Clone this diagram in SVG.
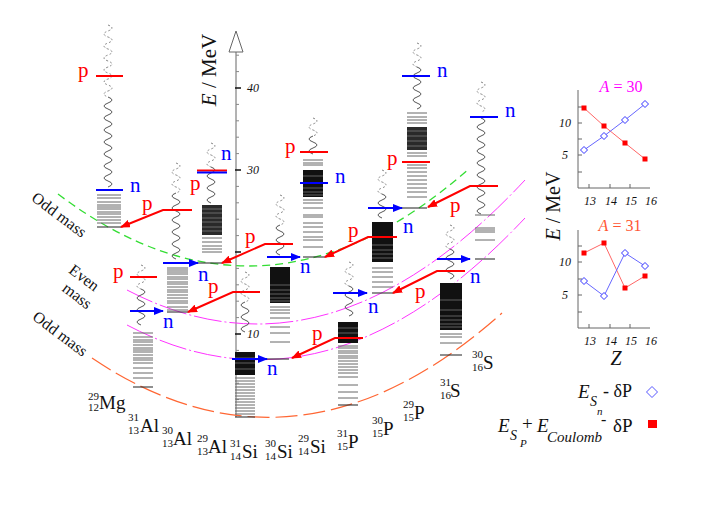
<svg xmlns="http://www.w3.org/2000/svg" width="716" height="507" viewBox="0 0 716 507">
<style>
text{font-family:"Liberation Serif","Times New Roman",serif;fill:#111}
.pl{fill:#f00;font-size:21px}
.nl{fill:#00f;font-size:21px}
.lv{stroke:#666;stroke-width:1;fill:none}
.gs{stroke:#333;stroke-width:1.1;fill:none}
.dn{fill:#111}
.st{stroke:#999;stroke-width:0.6;fill:none}
.wd{stroke:#777;stroke-width:0.9;fill:none;stroke-dasharray:2 2}
.ws{stroke:#444;stroke-width:0.9;fill:none}
.rl{stroke:#f00;stroke-width:2;fill:none}
.bl{stroke:#00f;stroke-width:2;fill:none}
.ra{stroke:#f00;stroke-width:2;fill:none;marker-end:url(#mr)}
.ba{stroke:#00f;stroke-width:2;fill:none;marker-end:url(#mb)}
.ax{stroke:#666;stroke-width:1;fill:none}
.tk{font-size:12px;font-style:italic}
.nsym{font-size:19px}
.nsc{font-size:11px}
.ml{font-size:16px}
.sq{fill:#f00}
.dm{fill:#fff;stroke:#33f;stroke-width:1}
</style>
<defs>
<marker id="mr" viewBox="0 0 10 8" refX="9" refY="4" markerWidth="10" markerHeight="8" orient="auto" markerUnits="userSpaceOnUse"><path d="M0,0L10,4L0,8z" fill="#f00"/></marker>
<marker id="mb" viewBox="0 0 10 8" refX="9" refY="4" markerWidth="10" markerHeight="8" orient="auto" markerUnits="userSpaceOnUse"><path d="M0,0L10,4L0,8z" fill="#00f"/></marker>
</defs>
<rect width="716" height="507" fill="#fff"/>

<g id="axis">
<path class="ax" d="M236,417V52"/>
<path d="M229,52L236,31L243,52Z" fill="#fff" stroke="#666" stroke-width="1"/>
<path stroke="#888" stroke-width="1" d="M236,399.6h3M236,383.2h3M236,366.8h3M236,350.4h3M236,317.6h3M236,301.2h3M236,284.8h3M236,268.4h3M236,235.6h3M236,219.2h3M236,202.8h3M236,186.4h3M236,153.6h3M236,137.2h3M236,120.8h3M236,104.4h3M236,71.6h3M236,55.2h3"/>
<path stroke="#111" stroke-width="1.6" d="M235,334h6M235,252h6M235,170h6M235,88h6"/>
<text class="tk" x="247" y="92">40</text>
<text class="tk" x="247" y="174">30</text>
<text class="tk" x="247" y="338">10</text>
<text transform="translate(216,70) rotate(-90)" text-anchor="middle" font-size="21"><tspan font-style="italic">E</tspan> / MeV</text>
</g>

<g id="curves" fill="none">
<path d="M58,194Q264,350 470,168" stroke="#33dd33" stroke-width="1.3" stroke-dasharray="8 5"/>
<path d="M127,290Q326,394 525,180" stroke="#ff33ff" stroke-width="1" stroke-dasharray="28 3 2 3"/>
<path d="M127,325Q326,430 525,218" stroke="#ff33ff" stroke-width="1" stroke-dasharray="28 3 2 3"/>
<path d="M92,358Q297,496 502,313" stroke="#ff6633" stroke-width="1.2" stroke-dasharray="22 6"/>
<text class="ml" transform="translate(56,219) rotate(37)" text-anchor="middle">Odd mass</text>
<text class="ml" transform="translate(81,282) rotate(37)" text-anchor="middle">Even</text>
<text class="ml" transform="translate(74,300) rotate(37)" text-anchor="middle">mass</text>
<text class="ml" transform="translate(57,338) rotate(37)" text-anchor="middle">Odd mass</text>
</g>

<g id="n29Mg">
<path class="wd" d="M108,25q8,3 0,6t0,6 0,6 0,6 0,6 0,6 0,6 0,6 0,6 0,6 0,6 0,6"/>
<path class="ws" d="M108,97q8,3 0,6t0,6 0,6 0,6 0,6 0,6 0,6 0,6 0,6 0,6 0,6 0,6 0,6 0,6 0,6"/>
<path class="lv" d="M97,195H121M97,198H121M97,202H121M97,205H121M97,207H121M97,209H121M97,212H121M97,214H121M97,217H121M97,220H121M97,223H121"/>
<path class="gs" d="M97,227H121"/>
<path class="rl" d="M96,76H123"/>
<path class="bl" d="M96,190H123"/>
<text class="pl" x="78" y="77">p</text>
<text class="nl" x="130" y="192">n</text>
<text class="nsc" x="88" y="400">29</text><text class="nsc" x="88" y="411">12</text><text class="nsym" x="99" y="409">Mg</text>
</g>

<g id="n31Al">
<path class="wd" d="M141,265q8,3 0,6t0,6 0,6 0,6"/>
<path class="ws" d="M141,289q8,3 0,6t0,6 0,6 0,6 0,6 0,6"/>
<path class="lv" d="M133,333H153M133,337H153M133,340H153M133,342H153M133,345H153M133,348H153M133,350H153M133,352H153M133,355H153M133,358H153M133,360H153M133,363H153M133,368H153M133,373H153M133,378H153"/>
<path class="gs" d="M133,387H153"/>
<path class="rl" d="M130,277H157"/>
<text class="pl" x="113" y="278">p</text>
<text class="nsc" x="128" y="421">31</text><text class="nsc" x="128" y="434">13</text><text class="nsym" x="140" y="432">Al</text>
</g>

<g id="n30Al">
<path class="wd" d="M176,163q8,3 0,6t0,6 0,6 0,6 0,6"/>
<path class="ws" d="M176,193q-8,3 0,6t0,6 0,6 0,6 0,6 0,6 0,6 0,6 0,6 0,6 0,6"/>
<path class="lv" stroke="#999" d="M167,268H188M167,270H188M167,272H188M167,274H188M167,277H188M167,279H188M167,282H188M167,284H188"/>
<path class="lv" stroke="#444" d="M167,287H188M167,290H188M167,292H188M167,295H188M167,298H188M167,301H188M167,303H188M167,307H188M167,310H188"/>
<path class="gs" d="M167,312H188"/>
<text class="nsc" x="162" y="434">30</text><text class="nsc" x="162" y="447">13</text><text class="nsym" x="173" y="445">Al</text>
</g>

<g id="n29Al">
<path class="wd" d="M211,143q8,3 0,6t0,6 0,6 0,6"/>
<path class="ws" d="M211,167q8,3 0,6t0,6 0,6 0,6 0,6 0,6"/>
<rect x="202" y="205" width="20" height="30" fill="#2a2a2a"/>
<path class="st" d="M202,209H222M202,213H222M202,218H222M202,222H222M202,227H222M202,231H222"/>
<path class="lv" d="M202,238H222M202,242H222M202,246H222M202,249H222M202,252H222"/>
<path class="gs" d="M198,263H222"/>
<path class="rl" d="M197,170.5H227"/>
<path class="bl" d="M197,172.5H227"/>
<text class="pl" x="190" y="190">p</text>
<text class="nl" x="221" y="160">n</text>
<text class="nsc" x="197" y="442">29</text><text class="nsc" x="197" y="455">13</text><text class="nsym" x="208" y="453">Al</text>
</g>

<g id="n31Si">
<path class="wd" d="M245,272q8,3 0,6t0,6 0,6 0,6 0,6"/>
<path class="ws" d="M245,302q-8,3 0,6t0,6 0,6 0,6 0,6"/>
<rect class="dn" x="235" y="352" width="20" height="23"/>
<path class="st" d="M235,358H255M235,363H255M235,369H255"/>
<path class="lv" d="M235,378H255M235,381H255M235,384H255M235,387H255M235,390H255M235,393H255M235,396H255M235,399H255M235,402H255M235,405H255M235,408H255M235,411H255M235,414H255"/>
<path class="gs" d="M235,417H255"/>
<path class="rl" d="M233,292H260"/>
<text class="nsc" x="230" y="447">31</text><text class="nsc" x="230" y="460">14</text><text class="nsym" x="242" y="458">Si</text>
</g>

<g id="n30Si">
<path class="wd" d="M280,195q8,3 0,6t0,6 0,6 0,6 0,6"/>
<path class="ws" d="M280,225q-8,3 0,6t0,6 0,6 0,6 0,6"/>
<rect class="dn" x="270" y="267" width="20" height="36"/>
<path class="st" d="M270,285H290M270,290H290M270,294H290M270,298H290M270,301H290"/>
<path class="lv" d="M270,307H290M270,310H290M270,313H290M270,318H290M270,327H290M270,333H290M270,342H290"/>
<path class="gs" d="M267,359H289"/>
<text class="nsc" x="265" y="447">30</text><text class="nsc" x="265" y="460">14</text><text class="nsym" x="277" y="458">Si</text>
</g>

<g id="n29Si">
<path class="wd" d="M313,118q8,3 0,6t0,6 0,6"/>
<path class="ws" d="M313,136q-8,3 0,6t0,6 0,6"/>
<path class="lv" d="M303,160H323M303,163H323M303,165H323"/>
<rect class="dn" x="303" y="170" width="20" height="27"/>
<path class="st" d="M303,176H323M303,188H323M303,192H323M303,195H323"/>
<path class="lv" d="M303,200H323M303,203H323M303,208H323M303,215H323M303,217H323M303,223H323M303,227H323M303,232H323M303,237H323M303,240H323M303,247H323"/>
<path class="gs" d="M303,257H325"/>
<path class="rl" d="M300,152H328"/>
<path class="bl" d="M300,183H328"/>
<text class="pl" x="285" y="153">p</text>
<text class="nl" x="335" y="183">n</text>
<text class="nsc" x="298" y="442">29</text><text class="nsc" x="298" y="455">14</text><text class="nsym" x="310" y="453">Si</text>
</g>

<g id="n31P">
<path class="wd" d="M349,262q8,3 0,6t0,6 0,6 0,6"/>
<path class="ws" d="M349,286q8,3 0,6t0,6 0,6 0,6 0,6"/>
<rect class="dn" x="338" y="322" width="20" height="21"/>
<path class="st" d="M338,328H358M338,333H358"/>
<path class="lv" stroke="#444" d="M338,346H358M338,348H358M338,351H358M338,353H358M338,356H358M338,358H358M338,361H358M338,364H358M338,367H358M338,370H358M338,373H358M338,377H358"/>
<path class="lv" d="M338,385H358M338,392H358M338,398H358"/>
<path class="gs" d="M338,405H358"/>
<text class="nsc" x="337" y="437">31</text><text class="nsc" x="337" y="450">15</text><text class="nsym" x="348" y="448">P</text>
</g>

<g id="n30P">
<path class="wd" d="M382,170q8,3 0,6t0,6 0,6 0,6"/>
<path class="ws" d="M382,194q8,3 0,6t0,6 0,6 0,6"/>
<rect class="dn" x="372" y="222" width="21" height="40"/>
<path class="st" d="M372,245H393M372,250H393M372,254H393M372,258H393"/>
<path class="lv" d="M372,268H393M372,272H393M372,277H393M372,282H393M372,287H393"/>
<path class="gs" d="M372,293H393"/>
<text class="nsc" x="372" y="424">30</text><text class="nsc" x="372" y="437">15</text><text class="nsym" x="383" y="435">P</text>
</g>

<g id="n29P">
<path class="wd" d="M417,43q8,3 0,6t0,6 0,6 0,6"/>
<path class="ws" d="M417,67q8,3 0,6t0,6 0,6 0,6 0,6 0,6 0,6"/>
<path class="lv" d="M407,113H427M407,117H427M407,120H427M407,123H427"/>
<rect x="407" y="127" width="20" height="23" fill="#2a2a2a"/>
<path class="st" d="M407,131H427M407,136H427M407,141H427M407,146H427"/>
<path class="lv" d="M407,153H427M407,156H427M407,165H427M407,168H427M407,172H427M407,176H427M407,180H427M407,184H427M407,188H427M407,192H427M407,197H427"/>
<path class="gs" d="M402,208H427"/>
<path class="rl" d="M402,162H430"/>
<path class="bl" d="M402,76H430"/>
<text class="pl" x="387" y="165">p</text>
<text class="nl" x="437" y="77">n</text>
<text class="nsc" x="403" y="408">29</text><text class="nsc" x="403" y="421">15</text><text class="nsym" x="414" y="419">P</text>
</g>

<g id="n31S">
<path class="wd" d="M450,225q8,3 0,6t0,6 0,6 0,6"/>
<path class="ws" d="M450,249q8,3 0,6t0,6 0,6 0,6 0,6"/>
<rect class="dn" x="440" y="283" width="22" height="47"/>
<path class="st" d="M440,300H462M440,310H462M440,316H462M440,320H462M440,324H462M440,327H462"/>
<path class="lv" d="M440,334H462M440,337H462M440,343H462"/>
<path class="gs" d="M440,355H462"/>
<text class="nsc" x="440" y="386">31</text><text class="nsc" x="440" y="399">16</text><text class="nsym" x="450" y="397">S</text>
</g>

<g id="n30S">
<path class="wd" d="M481,82q8,3 0,6t0,6 0,6 0,6 0,6"/>
<path class="ws" d="M481,118q8,3 0,6t0,6 0,6 0,6 0,6 0,6 0,6 0,6 0,6 0,6 0,6 0,6 0,6 0,6 0,6 0,6"/>
<path class="lv" d="M475,215H495M475,228H495M475,230H495M475,232H495M475,240H495"/>
<path class="gs" d="M475,259H495"/>
<path class="bl" d="M470,117H498"/>
<text class="nl" x="505" y="117">n</text>
<text class="nsc" x="472" y="358">30</text><text class="nsc" x="472" y="371">16</text><text class="nsym" x="483" y="369">S</text>
</g>

<g id="connectors">
<path class="ra" d="M192,210H163L121,227"/>
<path class="ra" d="M260,292H233L188,312"/>
<path class="ra" d="M293,244H265L222,263"/>
<path class="ra" d="M363,338H335L292,358"/>
<path class="ra" d="M397,237H368L325,257"/>
<path class="ra" d="M465,271H437L393,293"/>
<path class="ra" d="M498,186H470L428,207"/>
<text class="pl" x="142" y="210">p</text>
<text class="pl" x="208" y="293">p</text>
<text class="pl" x="245" y="243">p</text>
<text class="pl" x="312" y="340">p</text>
<text class="pl" x="348" y="237">p</text>
<text class="pl" x="415" y="298">p</text>
<text class="pl" x="450" y="212">p</text>
<path class="ba" d="M130,311H163"/>
<path class="ba" d="M163,263H198"/>
<path class="ba" d="M232,359H267"/>
<path class="ba" d="M267,257H300"/>
<path class="ba" d="M333,293H367"/>
<path class="ba" d="M368,208H402"/>
<path class="ba" d="M437,259H470"/>
<text class="nl" x="163" y="328">n</text>
<text class="nl" x="198" y="281">n</text>
<text class="nl" x="267" y="375">n</text>
<text class="nl" x="300" y="273">n</text>
<text class="nl" x="368" y="313">n</text>
<text class="nl" x="403" y="233">n</text>
<text class="nl" x="470" y="283">n</text>
</g>

<g id="panel30">
<path class="ax" d="M578,90V188H650"/>
<path class="ax" d="M578,107h4M578,123h4M578,139h4M578,155h4M578,172h4M589,188v-4M610,188v-4M630,188v-4"/>
<text class="tk" font-size="13" x="565" y="127" text-anchor="middle">10</text>
<text class="tk" font-size="13" x="565" y="159" text-anchor="middle">5</text>
<text class="tk" font-size="13" x="590" y="205" text-anchor="middle">13</text>
<text class="tk" font-size="13" x="611" y="205" text-anchor="middle">14</text>
<text class="tk" font-size="13" x="631" y="205" text-anchor="middle">15</text>
<text class="tk" font-size="13" x="651" y="205" text-anchor="middle">16</text>
<text x="621" y="92" text-anchor="middle" font-size="16" style="fill:#f0f"><tspan font-style="italic">A</tspan> = 30</text>
<polyline points="584,108 604,126 625,143 645,159" fill="none" stroke="#ff6666" stroke-width="1"/>
<polyline points="584,150 604,136 625,120 645,104" fill="none" stroke="#6666ff" stroke-width="1"/>
<rect class="sq" x="581.5" y="105.5" width="5" height="5"/><rect class="sq" x="601.5" y="123.5" width="5" height="5"/><rect class="sq" x="622.5" y="140.5" width="5" height="5"/><rect class="sq" x="642.5" y="156.5" width="5" height="5"/>
<path class="dm" d="M584,146.5l3.5,3.5-3.5,3.5-3.5-3.5zM604,132.5l3.5,3.5-3.5,3.5-3.5-3.5zM625,116.5l3.5,3.5-3.5,3.5-3.5-3.5zM645,100.5l3.5,3.5-3.5,3.5-3.5-3.5z"/>
</g>

<g id="panel31">
<path class="ax" d="M578,230V328H650"/>
<path class="ax" d="M578,246h4M578,262h4M578,279h4M578,295h4M578,312h4M589,328v-4M610,328v-4M630,328v-4"/>
<text class="tk" font-size="13" x="565" y="266" text-anchor="middle">10</text>
<text class="tk" font-size="13" x="565" y="299" text-anchor="middle">5</text>
<text class="tk" font-size="13" x="590" y="345" text-anchor="middle">13</text>
<text class="tk" font-size="13" x="611" y="345" text-anchor="middle">14</text>
<text class="tk" font-size="13" x="631" y="345" text-anchor="middle">15</text>
<text class="tk" font-size="13" x="651" y="345" text-anchor="middle">16</text>
<text x="620" y="231" text-anchor="middle" font-size="16" style="fill:#ff5533"><tspan font-style="italic">A</tspan> = 31</text>
<polyline points="584,253 604,243 625,288 645,276" fill="none" stroke="#ff6666" stroke-width="1"/>
<polyline points="584,281 604,296 625,253 645,266" fill="none" stroke="#6666ff" stroke-width="1"/>
<rect class="sq" x="581.5" y="250.5" width="5" height="5"/><rect class="sq" x="601.5" y="240.5" width="5" height="5"/><rect class="sq" x="622.5" y="285.5" width="5" height="5"/><rect class="sq" x="642.5" y="273.5" width="5" height="5"/>
<path class="dm" d="M584,277.5l3.5,3.5-3.5,3.5-3.5-3.5zM604,292.5l3.5,3.5-3.5,3.5-3.5-3.5zM625,249.5l3.5,3.5-3.5,3.5-3.5-3.5zM645,262.5l3.5,3.5-3.5,3.5-3.5-3.5z"/>
<text x="616" y="365" text-anchor="middle" font-size="20" font-style="italic">Z</text>
<text transform="translate(560,206) rotate(-90)" text-anchor="middle" font-size="20"><tspan font-style="italic">E</tspan> / MeV</text>
</g>

<g id="legend">
<text x="578" y="398" font-size="19" font-style="italic">E</text>
<text x="590" y="406" font-size="14" font-style="italic">S</text>
<text x="597" y="415" font-size="11" font-style="italic">n</text>
<text x="603" y="397" font-size="18">- δP</text>
<path d="M652,386.5l5.5,5.5-5.5,5.5-5.5-5.5z" fill="#fff" stroke="#55f" stroke-width="1"/>
<text x="498" y="432" font-size="19" font-style="italic">E</text>
<text x="510" y="440" font-size="14" font-style="italic">S</text>
<text x="520" y="447" font-size="11" font-style="italic">P</text>
<text x="522" y="430" font-size="19">+</text>
<text x="537" y="432" font-size="19" font-style="italic">E</text>
<text x="547" y="442" font-size="15" font-style="italic">Coulomb</text>
<text x="601" y="425" font-size="16">-</text>
<text x="613" y="432" font-size="19">δP</text>
<rect x="648" y="420" width="9" height="8" fill="#f00"/>
</g>
</svg>
